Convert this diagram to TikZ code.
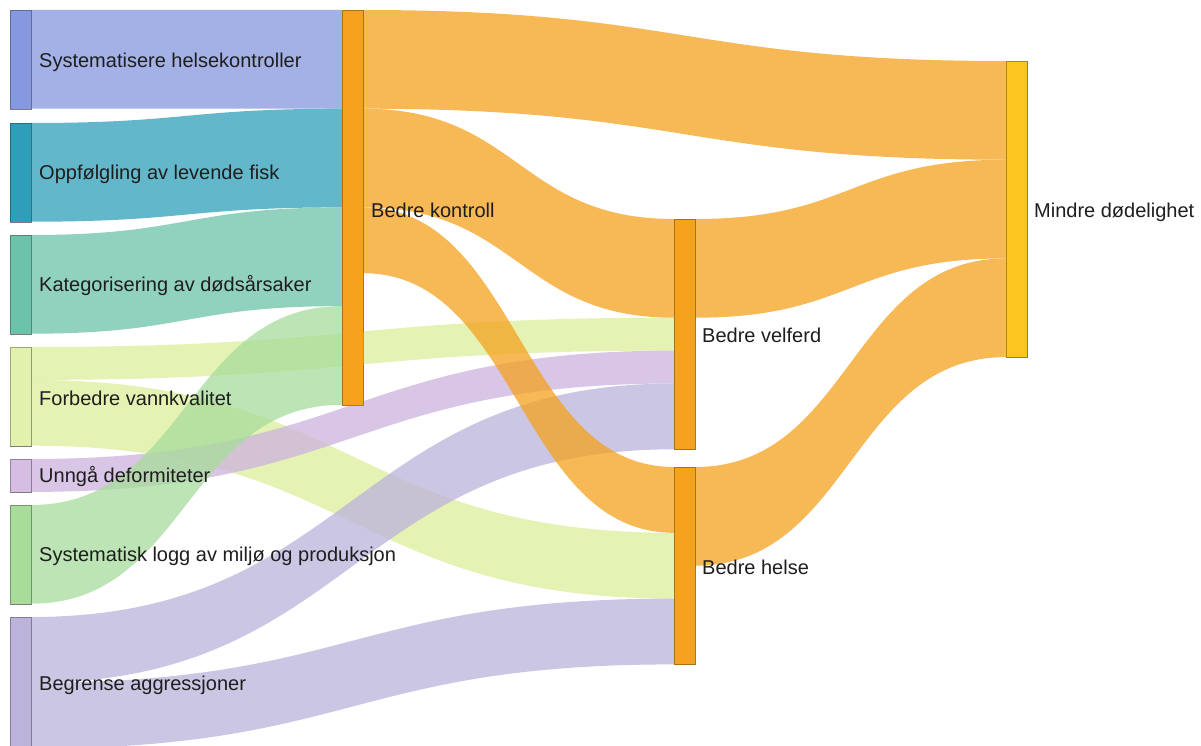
\documentclass[tikz,border=0pt]{standalone}
\usepackage{fontspec}
\setmainfont{Liberation Sans}
\usetikzlibrary{calc}
\definecolor{cA}{HTML}{8598E0}
\definecolor{cB}{HTML}{2F9FB9}
\definecolor{cC}{HTML}{6CC3A9}
\definecolor{cD}{HTML}{DCEE9C}
\definecolor{cDn}{HTML}{E3F1AE}
\definecolor{cE}{HTML}{CDB2DE}
\definecolor{cEn}{HTML}{D5BDE3}
\definecolor{cF}{HTML}{A8DC9B}
\definecolor{cG}{HTML}{BCB3DD}
\definecolor{cOr}{HTML}{F5A21E}
\definecolor{cYe}{HTML}{FCC520}
\definecolor{txt}{HTML}{1E1E1E}
% band: colour, source node, source offset (units), target node, target offset, width (units)
\newcommand{\band}[6]{%
  \fill[#1, fill opacity=0.75] let \p1=(#2.north east), \p2=(#4.north west),
    \n1={0.5*(\x1+\x2)}, \n2={\y1-#3*32.9pt}, \n3={\y2-#5*32.9pt},
    \n4={\y1-(#3+#6)*32.9pt}, \n5={\y2-(#5+#6)*32.9pt} in
  (\x1,\n2) .. controls (\n1,\n2) and (\n1,\n3) .. (\x2,\n3)
  -- (\x2,\n5) .. controls (\n1,\n5) and (\n1,\n4) .. (\x1,\n4) -- cycle;}
\tikzset{
  bar/.style={rectangle, inner sep=0pt, anchor=north west, minimum width=20.5pt,
    draw=black, draw opacity=0.3, line width=0.7pt},
  lbl/.style={anchor=west, inner sep=0pt, text=txt, font=\fontsize{20}{23}\selectfont}
}
\begin{document}
\begin{tikzpicture}[x=1pt,y=-1pt]
\clip (0,0) rectangle (1201,746);
\fill[white] (0,0) rectangle (1201,746);
% nodes (bars)
\node[bar, fill=cA, minimum height=98.7pt] (s1) at (10,10) {};
\node[bar, fill=cB, minimum height=98.7pt] (s2) at (10,123) {};
\node[bar, fill=cC, minimum height=98.7pt] (s3) at (10,235) {};
\node[bar, fill=cDn, minimum height=98.7pt] (s4) at (10,347) {};
\node[bar, fill=cEn, minimum height=32.9pt] (s5) at (10,459) {};
\node[bar, fill=cF, minimum height=98.7pt] (s6) at (10,505) {};
\node[bar, fill=cG, minimum height=131.6pt] (s7) at (10,617) {};
\node[bar, fill=cOr, minimum height=394.8pt] (k) at (342,10) {};
\node[bar, fill=cOr, minimum height=230.3pt] (v) at (674,219) {};
\node[bar, fill=cOr, minimum height=197.4pt] (h) at (674,467) {};
\node[bar, fill=cYe, minimum height=296.1pt] (m) at (1006,61) {};
% bands
\band{cA}{s1}{0}{k}{0}{3}
\band{cB}{s2}{0}{k}{3}{3}
\band{cC}{s3}{0}{k}{6}{3}
\band{cD}{s4}{0}{v}{3}{1}
\band{cD}{s4}{1}{h}{2}{2}
\band{cE}{s5}{0}{v}{4}{1}
\band{cF}{s6}{0}{k}{9}{3}
\band{cG}{s7}{0}{v}{5}{2}
\band{cG}{s7}{2}{h}{4}{2}
\band{cOr}{k}{0}{m}{0}{3}
\band{cOr}{k}{3}{v}{0}{3}
\band{cOr}{k}{6}{h}{0}{2}
\band{cOr}{v}{0}{m}{3}{3}
\band{cOr}{h}{0}{m}{6}{3}
% redraw bars on top
\node[bar, fill=cA, minimum height=98.7pt] at (10,10) {};
\node[bar, fill=cB, minimum height=98.7pt] at (10,123) {};
\node[bar, fill=cC, minimum height=98.7pt] at (10,235) {};
\node[bar, fill=cDn, minimum height=98.7pt] at (10,347) {};
\node[bar, fill=cEn, minimum height=32.9pt] at (10,459) {};
\node[bar, fill=cF, minimum height=98.7pt] at (10,505) {};
\node[bar, fill=cG, minimum height=131.6pt] at (10,617) {};
\node[bar, fill=cOr, minimum height=394.8pt] at (342,10) {};
\node[bar, fill=cOr, minimum height=230.3pt] at (674,219) {};
\node[bar, fill=cOr, minimum height=197.4pt] at (674,467) {};
\node[bar, fill=cYe, minimum height=296.1pt] at (1006,61) {};
% labels
\node[lbl] (l1) at (39,62) {Systematisere helsekontroller};
\node[lbl] (l2) at (39,174) {Oppfølgling av levende fisk};
\node[lbl] (l3) at (39,286) {Kategorisering av dødsårsaker};
\node[lbl] (l4) at (39,398) {Forbedre vannkvalitet};
\node[lbl] (l5) at (39,477) {Unngå deformiteter};
\node[lbl] (l6) at (39,556) {Systematisk logg av miljø og produksjon};
\node[lbl] (l7) at (39,685) {Begrense aggressjoner};
\node[lbl] (lk) at (371,210) {Bedre kontroll};
\node[lbl] (lv) at (702,335) {Bedre velferd};
\node[lbl] (lh) at (702,567) {Bedre helse};
\node[lbl] (lm) at (1034,212) {Mindre dødelighet};
\end{tikzpicture}
\end{document}
